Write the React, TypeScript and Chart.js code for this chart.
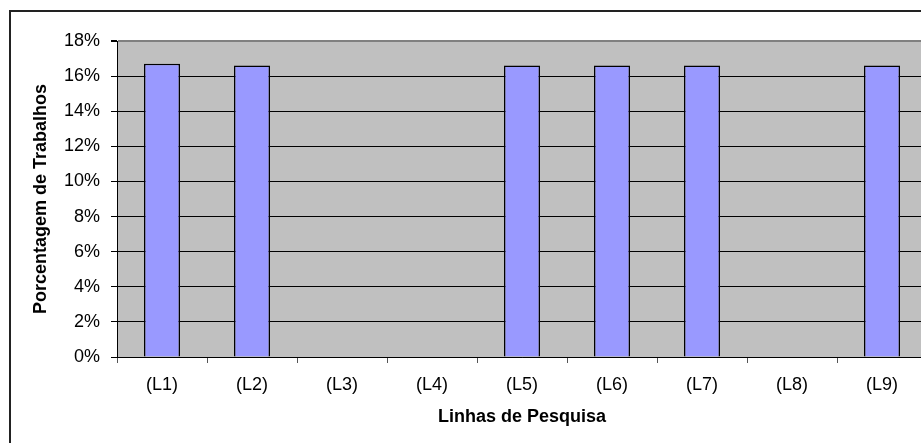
import React, { useEffect, useRef } from "react";
import { Chart, registerables } from "chart.js";

Chart.register(...registerables);

const categories = ["(L1)", "(L2)", "(L3)", "(L4)", "(L5)", "(L6)", "(L7)", "(L8)", "(L9)"];
const percentages: (number | null)[] = [16.7, 16.6, null, null, 16.6, 16.6, 16.6, null, 16.6];
const yTicksMax = 18;
const yStep = 2;
const xTitle = "Linhas de Pesquisa";
const yTitle = "Porcentagem de Trabalhos";

const FONT = "'Liberation Sans', Arial, sans-serif";

export default function App() {
  const ref = useRef<HTMLCanvasElement | null>(null);

  useEffect(() => {
    if (!ref.current) return;
    const plotBg = {
      id: "plotBg",
      beforeDraw(chart: any) {
        const { ctx, chartArea } = chart;
        ctx.save();
        ctx.fillStyle = "#C0C0C0";
        ctx.fillRect(chartArea.left, chartArea.top, chartArea.right - chartArea.left, chartArea.bottom - chartArea.top);
        ctx.restore();
      },
    };
    const chart = new Chart(ref.current, {
      type: "bar",
      data: {
        labels: categories,
        datasets: [
          {
            data: percentages,
            backgroundColor: "#9999FF",
            borderColor: "#000000",
            borderWidth: 1.5,
            categoryPercentage: 1,
            barPercentage: 0.4,
          },
        ],
      },
      options: {
        animation: false,
        responsive: false,
        devicePixelRatio: 1,
        layout: { padding: { top: 41, right: 13, left: 0, bottom: 0 } },
        plugins: { legend: { display: false }, tooltip: { enabled: false } },
        scales: {
          x: {
            offset: true,
            afterFit: (s: any) => {
              s.height = 86;
            },
            grid: {
              offset: true,
              drawOnChartArea: false,
              drawTicks: true,
              tickLength: 6,
              tickColor: "#555555",
            },
            border: { display: true, color: "#000000", width: 1 },
            ticks: {
              color: "#000000",
              padding: 11,
              font: { family: FONT, size: 18 },
            },
            title: {
              display: true,
              text: xTitle,
              color: "#000000",
              font: { family: FONT, size: 18, weight: "bold" },
              padding: { top: 0, bottom: 15 },
            },
          },
          y: {
            min: 0,
            max: yTicksMax,
            afterFit: (s: any) => {
              s.width = 117;
            },
            grid: {
              color: (c: any) => (c.tick && c.tick.value === yTicksMax ? "#808080" : "#000000"),
              lineWidth: (c: any) => (c.tick && c.tick.value === yTicksMax ? 2 : 1),
              tickColor: "#000000",
              tickLength: 6,
            },
            border: { display: true, color: "#000000", width: 1 },
            ticks: {
              stepSize: yStep,
              color: "#000000",
              padding: 11,
              font: { family: FONT, size: 18 },
              callback: (v: any) => v + "%",
            },
            title: {
              display: true,
              text: yTitle,
              color: "#000000",
              font: { family: FONT, size: 18, weight: "bold" },
              padding: { top: 30, bottom: 0 },
            },
          },
        },
      },
      plugins: [plotBg],
    });
    return () => chart.destroy();
  }, []);

  return (
    <div
      style={{
        position: "fixed",
        left: 0,
        top: 0,
        width: 921,
        height: 443,
        overflow: "hidden",
        background: "#FFFFFF",
      }}
    >
      <div
        style={{
          position: "absolute",
          left: 9,
          top: 10,
          width: 1000,
          height: 500,
          borderLeft: "2px solid #222222",
          borderTop: "2px solid #222222",
          boxSizing: "border-box",
        }}
      />
      <canvas
        ref={ref}
        width={940}
        height={443}
        style={{ position: "absolute", left: 0, top: 0, width: 940, height: 443 }}
      />
    </div>
  );
}
